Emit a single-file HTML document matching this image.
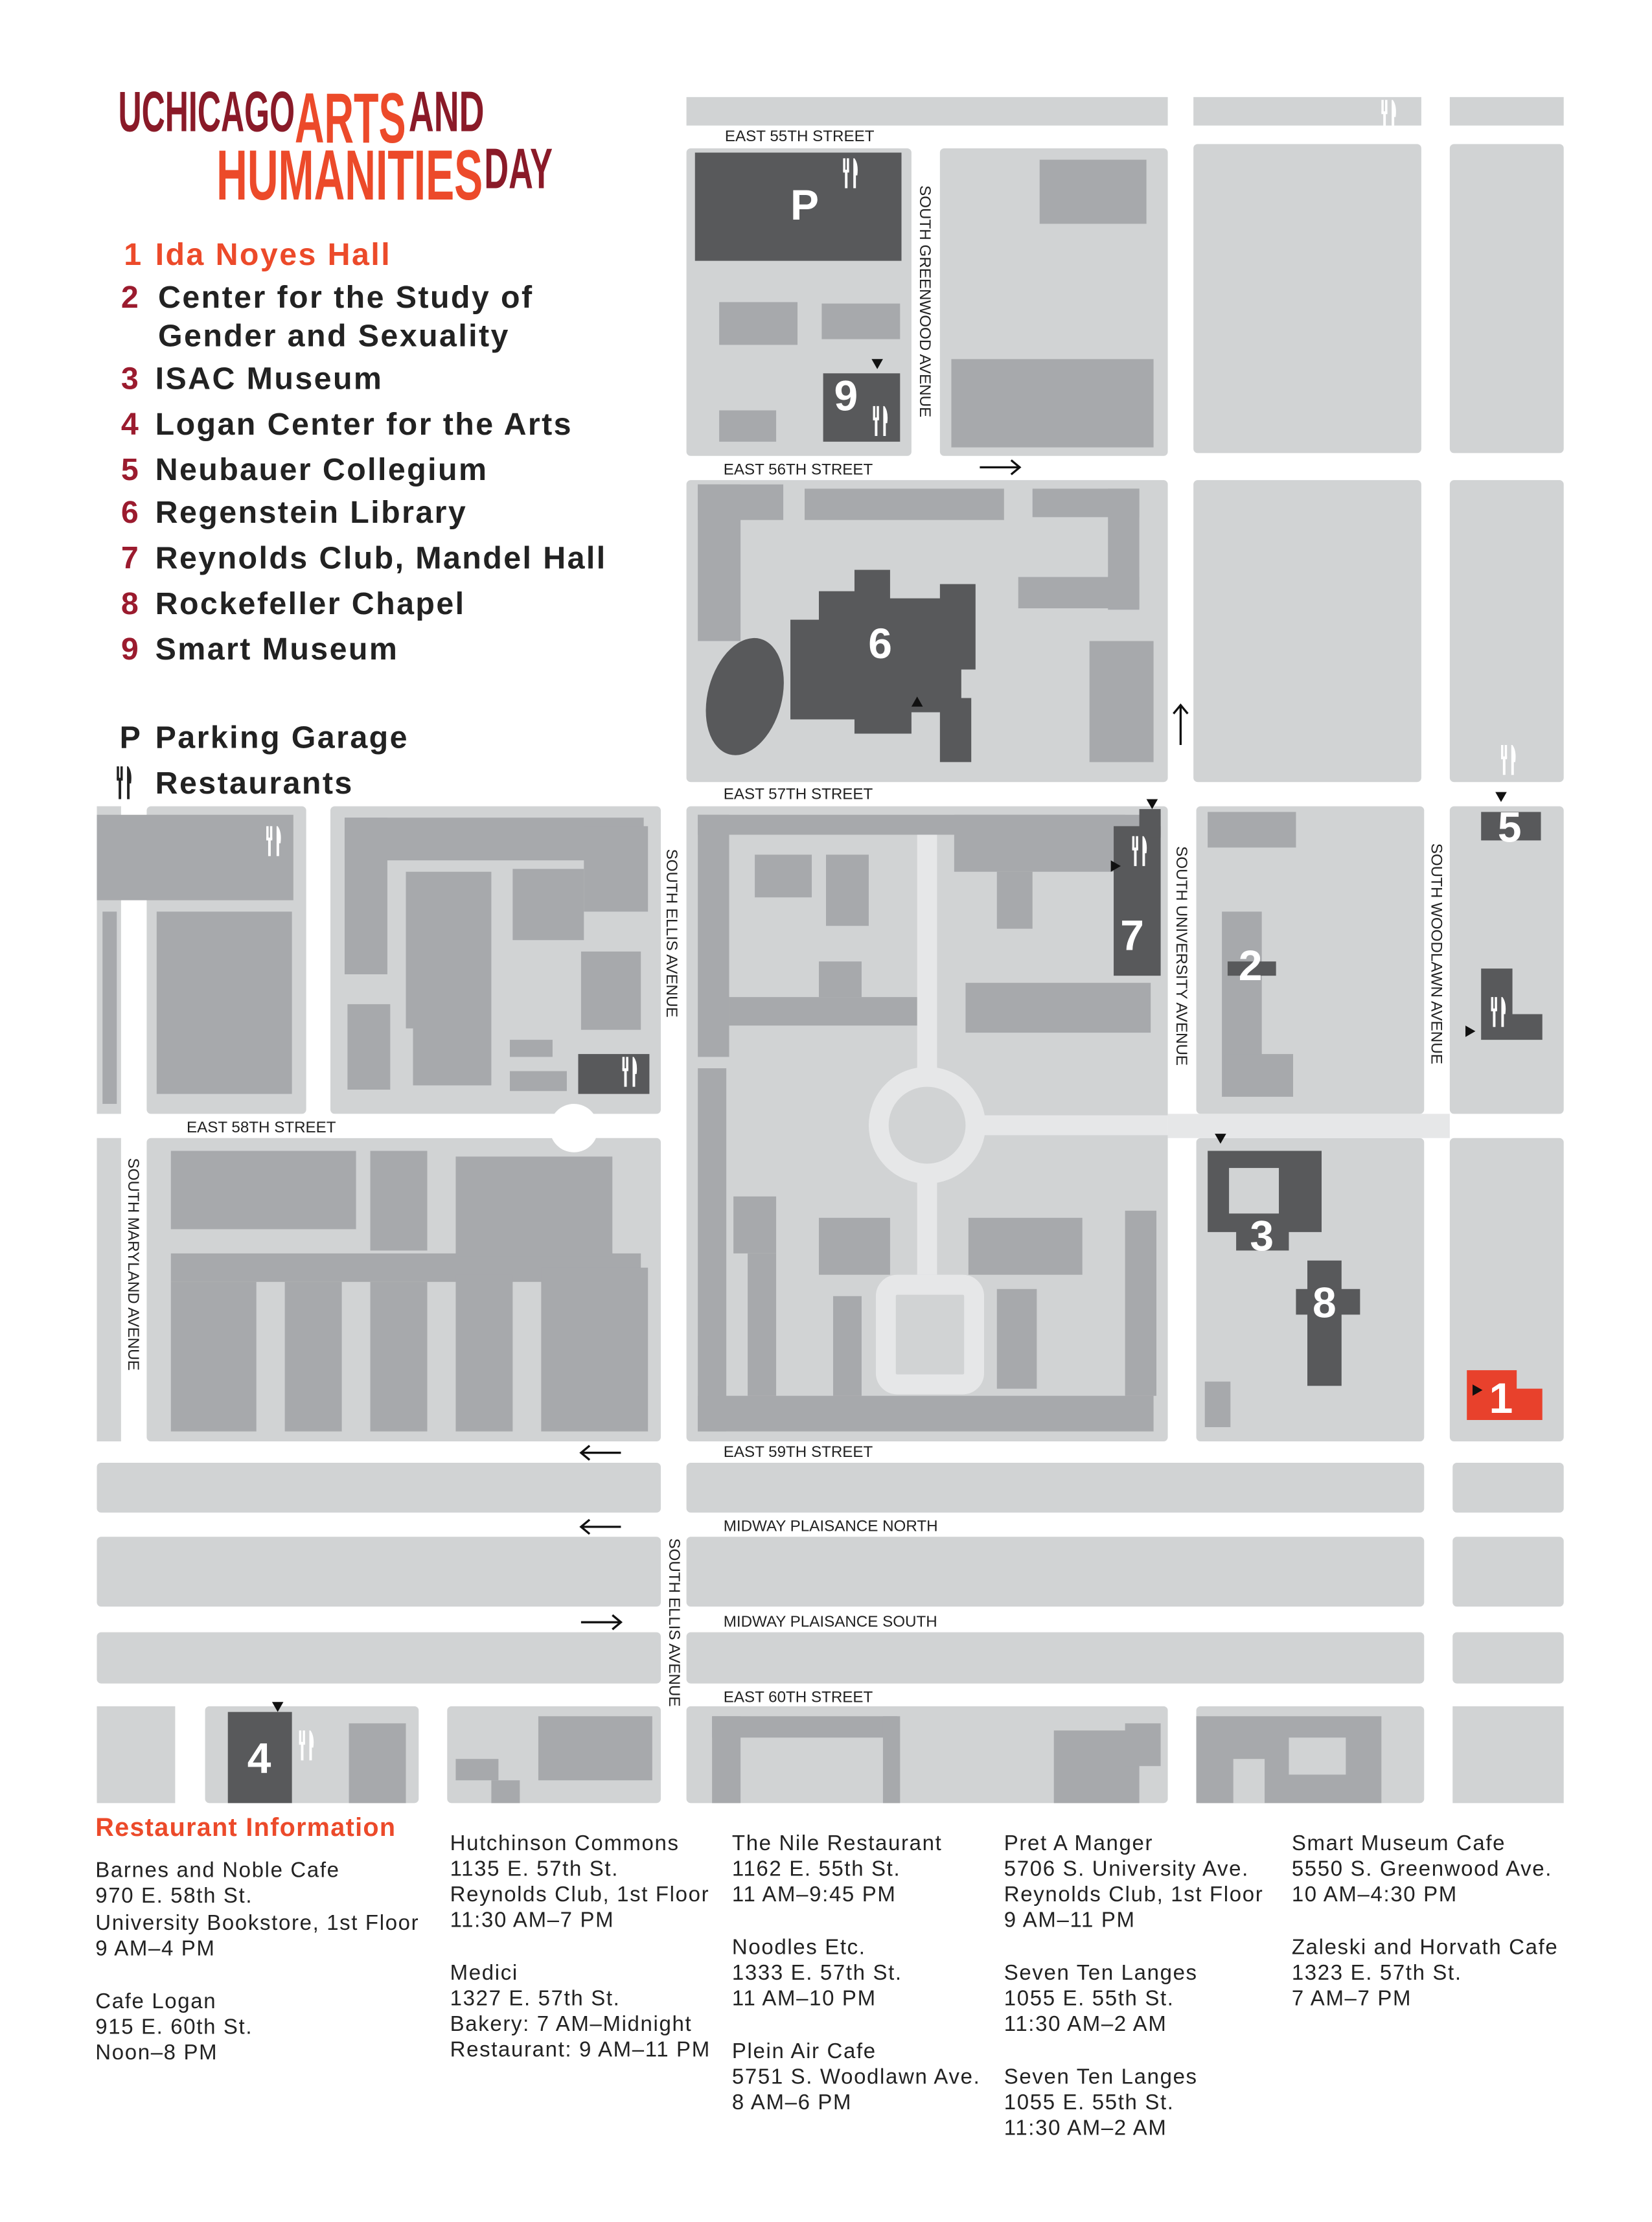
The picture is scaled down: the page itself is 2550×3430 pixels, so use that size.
<!DOCTYPE html>
<html><head><meta charset="utf-8"><style>
html,body{margin:0;padding:0;background:#fff}
svg{display:block}
.t{font-family:"Liberation Sans",sans-serif}
</style></head><body>
<svg width="2550" height="3430" viewBox="0 0 1160 1560" xmlns="http://www.w3.org/2000/svg" class="t">
<defs>
<g id="fk"><rect x="0" y="0" width="1.6" height="9" fill="#fff"/><rect x="2.6" y="0" width="1.6" height="9" fill="#fff"/><rect x="0" y="8" width="4.2" height="2" fill="#fff"/><rect x="1.3" y="9" width="1.8" height="12" fill="#fff"/><path d="M8 0 Q11 4 10 12 L9 12 L9 21 L7.2 21 L7.2 0Z" fill="#fff"/></g>
<g id="fkd"><rect x="0" y="0" width="1.6" height="9" fill="#222"/><rect x="2.6" y="0" width="1.6" height="9" fill="#222"/><rect x="0" y="8" width="4.2" height="2" fill="#222"/><rect x="1.3" y="9" width="1.8" height="14" fill="#222"/><path d="M8 0 Q11 4 10 12 L9 12 L9 23 L7.2 23 L7.2 0Z" fill="#222"/></g>
</defs>
<rect width="1160" height="1560" fill="#fff"/>
<g font-weight="bold">
<text x="83" y="92" font-size="40" fill="#8a1a28" textLength="124" lengthAdjust="spacingAndGlyphs">UCHICAGO</text>
<text x="207" y="100" font-size="50" fill="#ec4a2a" textLength="78" lengthAdjust="spacingAndGlyphs">ARTS</text>
<text x="287" y="92" font-size="40" fill="#8a1a28" textLength="53" lengthAdjust="spacingAndGlyphs">AND</text>
<text x="152" y="140" font-size="50" fill="#ec4a2a" textLength="187" lengthAdjust="spacingAndGlyphs">HUMANITIES</text>
<text x="340" y="132" font-size="40" fill="#8a1a28" textLength="48" lengthAdjust="spacingAndGlyphs">DAY</text>
</g>
<g font-size="22" font-weight="bold" fill="#222" letter-spacing="1.1">
<text x="87" y="186" fill="#ec4a2a">1</text><text x="109" y="186" fill="#ec4a2a">Ida Noyes Hall</text>
<text x="85" y="216" fill="#9b1b2e">2</text><text x="111" y="216">Center for the Study of</text>
<text x="111" y="243">Gender and Sexuality</text>
<text x="85" y="273" fill="#9b1b2e">3</text><text x="109" y="273">ISAC Museum</text>
<text x="85" y="305" fill="#9b1b2e">4</text><text x="109" y="305">Logan Center for the Arts</text>
<text x="85" y="337" fill="#9b1b2e">5</text><text x="109" y="337">Neubauer Collegium</text>
<text x="85" y="367" fill="#9b1b2e">6</text><text x="109" y="367">Regenstein Library</text>
<text x="85" y="399" fill="#9b1b2e">7</text><text x="109" y="399">Reynolds Club, Mandel Hall</text>
<text x="85" y="431" fill="#9b1b2e">8</text><text x="109" y="431">Rockefeller Chapel</text>
<text x="85" y="463" fill="#9b1b2e">9</text><text x="109" y="463">Smart Museum</text>
<text x="84" y="525">P</text><text x="109" y="525">Parking Garage</text>
<text x="109" y="557">Restaurants</text>
</g>
<use href="#fkd" x="82" y="538"/>
<g fill="#d1d3d4">
<rect x="482" y="68" width="338" height="20"/><rect x="838" y="68" width="160" height="20"/><rect x="1018" y="68" width="80" height="20"/>
<rect x="482" y="104" width="158" height="216" rx="3"/><rect x="660" y="104" width="160" height="216" rx="3"/>
<rect x="838" y="101" width="160" height="217" rx="3"/><rect x="1018" y="101" width="80" height="217" rx="3"/>
<rect x="482" y="337" width="338" height="212" rx="3"/><rect x="838" y="337" width="160" height="212" rx="3"/><rect x="1018" y="337" width="80" height="212" rx="3"/>
<rect x="68" y="566" width="17" height="216"/>
<rect x="103" y="566" width="112" height="216" rx="3"/><rect x="232" y="566" width="232" height="216" rx="3"/>
<rect x="482" y="566" width="338" height="446" rx="3"/><rect x="840" y="566" width="160" height="216" rx="3"/><rect x="1018" y="566" width="80" height="216" rx="3"/>
<rect x="68" y="799" width="17" height="213"/><rect x="103" y="799" width="361" height="213" rx="3"/><rect x="840" y="799" width="160" height="213" rx="3"/><rect x="1018" y="799" width="80" height="213" rx="3"/>
<rect x="68" y="1027" width="396" height="35" rx="3"/><rect x="482" y="1027" width="518" height="35" rx="3"/><rect x="1020" y="1027" width="78" height="35" rx="3"/>
<rect x="68" y="1079" width="396" height="49" rx="3"/><rect x="482" y="1079" width="518" height="49" rx="3"/><rect x="1020" y="1079" width="78" height="49" rx="3"/>
<rect x="68" y="1146" width="396" height="36" rx="3"/><rect x="482" y="1146" width="518" height="36" rx="3"/><rect x="1020" y="1146" width="78" height="36" rx="3"/>
<rect x="68" y="1198" width="55" height="68"/><rect x="144" y="1198" width="150" height="68" rx="3"/><rect x="314" y="1198" width="150" height="68" rx="3"/><rect x="482" y="1198" width="338" height="68" rx="3"/><rect x="840" y="1198" width="160" height="68" rx="3"/><rect x="1020" y="1198" width="78" height="68"/>
</g>
<rect x="232" y="782" width="172" height="17" fill="#fff"/><circle cx="403" cy="792" r="17" fill="#fff"/>
<g fill="#a7a9ac">
<rect x="68" y="572" width="138" height="60"/>
<rect x="110" y="640" width="95" height="128"/><rect x="72" y="640" width="10" height="135"/>
<rect x="242" y="574" width="210" height="30"/><rect x="242" y="574" width="30" height="110"/><rect x="285" y="612" width="60" height="110"/><rect x="360" y="610" width="50" height="50"/><rect x="408" y="668" width="42" height="55"/><rect x="244" y="705" width="30" height="60"/><rect x="290" y="722" width="55" height="40"/><rect x="358" y="730" width="30" height="12"/><rect x="358" y="752" width="40" height="14"/><rect x="410" y="580" width="45" height="60"/>
<rect x="120" y="808" width="130" height="55"/><rect x="120" y="880" width="330" height="20"/><rect x="120" y="900" width="60" height="105"/><rect x="200" y="900" width="40" height="105"/><rect x="260" y="900" width="40" height="105"/><rect x="320" y="895" width="40" height="110"/><rect x="380" y="890" width="75" height="115"/><rect x="260" y="808" width="40" height="70"/><rect x="320" y="812" width="110" height="70"/>
<rect x="490" y="572" width="325" height="14"/><rect x="490" y="572" width="22" height="170"/><rect x="512" y="700" width="140" height="20"/><rect x="530" y="600" width="40" height="30"/><rect x="580" y="600" width="30" height="50"/><rect x="575" y="675" width="30" height="25"/><rect x="670" y="572" width="120" height="40"/><rect x="700" y="612" width="25" height="40"/><rect x="678" y="690" width="130" height="35"/>
<rect x="490" y="750" width="20" height="255"/><rect x="490" y="980" width="320" height="25"/><rect x="515" y="840" width="30" height="40"/><rect x="525" y="880" width="20" height="100"/><rect x="575" y="855" width="50" height="40"/><rect x="585" y="910" width="20" height="70"/><rect x="680" y="855" width="80" height="40"/><rect x="700" y="905" width="28" height="70"/><rect x="790" y="850" width="22" height="130"/>
<rect x="490" y="340" width="60" height="25"/><rect x="490" y="340" width="30" height="110"/><rect x="565" y="343" width="140" height="22"/><rect x="725" y="343" width="75" height="20"/><rect x="778" y="343" width="22" height="85"/><rect x="715" y="405" width="85" height="22"/><rect x="765" y="450" width="45" height="85"/>
<rect x="505" y="212" width="55" height="30"/><rect x="577" y="213" width="55" height="25"/><rect x="505" y="288" width="40" height="22"/><rect x="730" y="112" width="75" height="45"/><rect x="668" y="252" width="142" height="62"/>
<rect x="848" y="570" width="62" height="25"/><rect x="858" y="640" width="28" height="130"/><rect x="860" y="740" width="48" height="30"/><rect x="846" y="970" width="18" height="32"/>
<rect x="840" y="1205" width="130" height="61"/><rect x="740" y="1215" width="60" height="51"/><rect x="790" y="1210" width="25" height="30"/><rect x="500" y="1205" width="130" height="15"/><rect x="500" y="1205" width="20" height="61"/><rect x="620" y="1205" width="12" height="61"/>
<rect x="378" y="1205" width="80" height="45"/><rect x="320" y="1235" width="30" height="15"/><rect x="345" y="1250" width="20" height="16"/><rect x="245" y="1210" width="40" height="56"/>
</g>
<rect x="866" y="1235" width="22" height="31" fill="#d1d3d4"/>
<rect x="905" y="1220" width="40" height="26" fill="#d1d3d4"/>
<g fill="none" stroke="#e6e7e8" stroke-width="14">
<line x1="651" y1="586" x2="651" y2="750"/><line x1="651" y1="830" x2="651" y2="895"/>
<line x1="691" y1="790" x2="820" y2="790"/>
<circle cx="651" cy="790" r="34"/>
<rect x="622" y="902" width="62" height="70" rx="8"/>
</g>
<rect x="820" y="782" width="198" height="17" fill="#e6e7e8"/>
<g fill="#58595b">
<rect x="488" y="107" width="145" height="76"/><rect x="578" y="262" width="54" height="48"/>
<path d="M555 435 L575 435 L575 415 L600 415 L600 400 L625 400 L625 420 L660 420 L660 410 L685 410 L685 470 L675 470 L675 490 L682 490 L682 535 L660 535 L660 500 L640 500 L640 515 L600 515 L600 505 L555 505Z"/>
<ellipse cx="523" cy="489" rx="26" ry="42" transform="rotate(15 523 489)"/>
<rect x="782" y="580" width="33" height="105"/><rect x="800" y="568" width="15" height="20"/>
<rect x="862" y="675" width="34" height="10"/>
<path d="M848 808 L928 808 L928 865 L905 865 L905 878 L868 878 L868 865 L848 865Z"/><rect x="863" y="820" width="35" height="32" fill="#d1d3d4"/>
<rect x="918" y="885" width="24" height="88"/><rect x="910" y="905" width="45" height="18"/>
<rect x="1040" y="570" width="42" height="20"/><path d="M1040 680 L1062 680 L1062 712 L1083 712 L1083 730 L1040 730Z"/>
<rect x="160" y="1202" width="45" height="64"/><rect x="406" y="740" width="50" height="28"/>
</g>
<path d="M1030 962 L1065 962 L1065 975 L1083 975 L1083 997 L1030 997Z" fill="#e8412c"/>
<g font-weight="bold" fill="#fff" font-size="30" text-anchor="middle">
<text x="565" y="154">P</text><text x="594" y="288">9</text><text x="618" y="462">6</text><text x="795" y="667">7</text>
<text x="878" y="688">2</text><text x="886" y="878">3</text><text x="930" y="925">8</text><text x="1060" y="591">5</text><text x="1054" y="992">1</text><text x="182" y="1245">4</text>
</g>
<use href="#fk" x="592" y="111"/><use href="#fk" x="613" y="285"/><use href="#fk" x="795" y="587"/><use href="#fk" x="1047" y="700"/><use href="#fk" x="437" y="742"/><use href="#fk" x="187" y="580"/><use href="#fk" x="1054" y="523"/><use href="#fk" x="970" y="70"/><use href="#fk" x="210" y="1215"/>
<g fill="#111">
<path d="M612 252 L620 252 L616 259Z"/><path d="M640 496 L648 496 L644 489Z"/><path d="M805 561 L813 561 L809 568Z"/><path d="M780 604 L780 612 L787 608Z"/><path d="M853 796 L861 796 L857 803Z"/><path d="M1050 556 L1058 556 L1054 563Z"/><path d="M1029 720 L1029 728 L1036 724Z"/><path d="M1034 972 L1034 980 L1041 976Z"/><path d="M191 1195 L199 1195 L195 1202Z"/>
</g>
<g font-size="11" fill="#222">
<text x="509" y="99">EAST 55TH STREET</text><text x="508" y="333">EAST 56TH STREET</text><text x="508" y="561">EAST 57TH STREET</text>
<text x="131" y="795">EAST 58TH STREET</text><text x="508" y="1023">EAST 59TH STREET</text><text x="508" y="1075">MIDWAY PLAISANCE NORTH</text>
<text x="508" y="1142">MIDWAY PLAISANCE SOUTH</text><text x="508" y="1195">EAST 60TH STREET</text>
<text transform="translate(646,130) rotate(90)">SOUTH GREENWOOD AVENUE</text>
<text transform="translate(468,596) rotate(90)">SOUTH ELLIS AVENUE</text>
<text transform="translate(826,594) rotate(90)">SOUTH UNIVERSITY AVENUE</text>
<text transform="translate(1005,592) rotate(90)">SOUTH WOODLAWN AVENUE</text>
<text transform="translate(90,813) rotate(90)">SOUTH MARYLAND AVENUE</text>
<text transform="translate(470,1080) rotate(90)">SOUTH ELLIS AVENUE</text>
</g>
<g stroke="#111" stroke-width="1.5" fill="none">
<path d="M688 328 H716 M710 323 L716 328 L710 333"/>
<path d="M829 523 V495 M824 501 L829 495 L834 501"/>
<path d="M436 1020 H408 M414 1015 L408 1020 L414 1025"/>
<path d="M436 1072 H408 M414 1067 L408 1072 L414 1077"/>
<path d="M408 1139 H436 M430 1134 L436 1139 L430 1144"/>
</g>
<text x="67" y="1289" font-size="18" font-weight="bold" fill="#ec4a2a" letter-spacing="0.6">Restaurant Information</text>
<g font-size="15" fill="#222" letter-spacing="0.75">
<text x="67" y="1318">Barnes and Noble Cafe</text><text x="67" y="1336">970 E. 58th St.</text><text x="67" y="1355">University Bookstore, 1st Floor</text><text x="67" y="1373">9 AM–4 PM</text>
<text x="67" y="1410">Cafe Logan</text><text x="67" y="1428">915 E. 60th St.</text><text x="67" y="1446">Noon–8 PM</text>
<text x="316" y="1299">Hutchinson Commons</text><text x="316" y="1317">1135 E. 57th St.</text><text x="316" y="1335">Reynolds Club, 1st Floor</text><text x="316" y="1353">11:30 AM–7 PM</text>
<text x="316" y="1390">Medici</text><text x="316" y="1408">1327 E. 57th St.</text><text x="316" y="1426">Bakery: 7 AM–Midnight</text><text x="316" y="1444">Restaurant: 9 AM–11 PM</text>
<text x="514" y="1299">The Nile Restaurant</text><text x="514" y="1317">1162 E. 55th St.</text><text x="514" y="1335">11 AM–9:45 PM</text>
<text x="514" y="1372">Noodles Etc.</text><text x="514" y="1390">1333 E. 57th St.</text><text x="514" y="1408">11 AM–10 PM</text>
<text x="514" y="1445">Plein Air Cafe</text><text x="514" y="1463">5751 S. Woodlawn Ave.</text><text x="514" y="1481">8 AM–6 PM</text>
<text x="705" y="1299">Pret A Manger</text><text x="705" y="1317">5706 S. University Ave.</text><text x="705" y="1335">Reynolds Club, 1st Floor</text><text x="705" y="1353">9 AM–11 PM</text>
<text x="705" y="1390">Seven Ten Langes</text><text x="705" y="1408">1055 E. 55th St.</text><text x="705" y="1426">11:30 AM–2 AM</text>
<text x="705" y="1463">Seven Ten Langes</text><text x="705" y="1481">1055 E. 55th St.</text><text x="705" y="1499">11:30 AM–2 AM</text>
<text x="907" y="1299">Smart Museum Cafe</text><text x="907" y="1317">5550 S. Greenwood Ave.</text><text x="907" y="1335">10 AM–4:30 PM</text>
<text x="907" y="1372">Zaleski and Horvath Cafe</text><text x="907" y="1390">1323 E. 57th St.</text><text x="907" y="1408">7 AM–7 PM</text>
</g>
</svg>
</body></html>
